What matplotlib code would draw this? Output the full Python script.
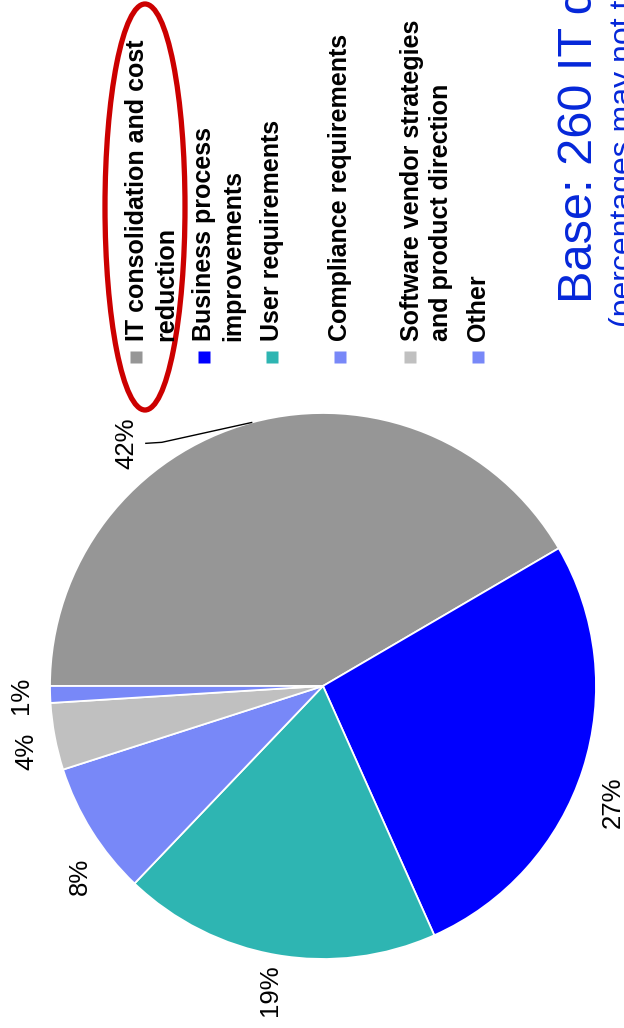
import numpy as np
import matplotlib.pyplot as plt
from matplotlib.patches import Ellipse

plt.rcParams['font.family'] = ['Liberation Sans', 'DejaVu Sans']

# 数据
categories = ['IT consolidation and cost\nreduction',
              'Business process\nimprovements',
              'User requirements',
              'Compliance requirements',
              'Software vendor strategies\nand product direction',
              'Other']
values = [42, 27, 19, 8, 4, 1]
pct_labels = ['42%', '27%', '19%', '8%', '4%', '1%']
colors = ['#969696', '#0000FF', '#2EB5B2', '#7888F8', '#C0C0C0', '#7888F8']

title = 'Base: 260 IT decision makers'
subtitle = '(percentages may not total 100% due to rounding)'

# 画板（整张图旋转了90度，所以文字都竖着写）
W, H = 624, 1028
fig = plt.figure(figsize=(W / 100, H / 100), dpi=100, facecolor='white')
ax = fig.add_axes([0, 0, 1, 1])

cx, cy, R = 323, H - 686, 273
wedges, _ = ax.pie(values, colors=colors, startangle=180, counterclock=False,
                   center=(cx, cy), radius=R, frame=True,
                   wedgeprops=dict(edgecolor='white', linewidth=1.3))
ax.set_xlim(0, W)
ax.set_ylim(0, H)
ax.set_aspect('equal')
ax.axis('off')

# 百分比标签
label_r = [1.143, 1.143, 1.132, 1.132, 1.114, 1.106]
label_nudge = [23.8, -4, 0, 6, 1.8, 0]
for w, lab, lr, nd in zip(wedges, pct_labels, label_r, label_nudge):
    mid = np.deg2rad((w.theta1 + w.theta2) / 2)
    ang = mid + np.deg2rad(nd)
    tx, ty = cx + R * lr * np.cos(ang), cy + R * lr * np.sin(ang)
    ax.text(tx, ty, lab, rotation=90, ha='center', va='center', fontsize=18.5)
    if lab == '42%':
        ex, ey = cx + R * np.cos(mid), cy + R * np.sin(mid)
        ax.plot([tx + 19, tx + 35, ex], [ty, ty + 1, ey], color='black', lw=1)

# 图例
leg_x = [151.5, 218.5, 272, 340, 426.5, 477.5]
sq_x = [136, 204, 272, 340, 410, 478]
for lx, sx, name, c in zip(leg_x, sq_x, categories, colors):
    ax.text(lx, H - 341, name, rotation=90, ha='center', va='bottom',
            multialignment='left', fontsize=18, fontweight='bold',
            linespacing=1.25)
    ax.plot(sx, H - 357, marker='s', markersize=8.6, color=c, mec='none')

# 红色椭圆
ax.add_patch(Ellipse((145, H - 207), 80, 406, fill=False, edgecolor='#CC0000', lw=3.8))

# 标题
ax.text(592, H - 303, title, rotation=90, rotation_mode='anchor', ha='left',
        va='baseline', fontsize=35, color='#0527D9')
ax.text(632, H - 327, subtitle, rotation=90, rotation_mode='anchor', ha='left',
        va='baseline', fontsize=23, color='#0527D9')

plt.savefig('out.png', dpi=100, facecolor='white')
